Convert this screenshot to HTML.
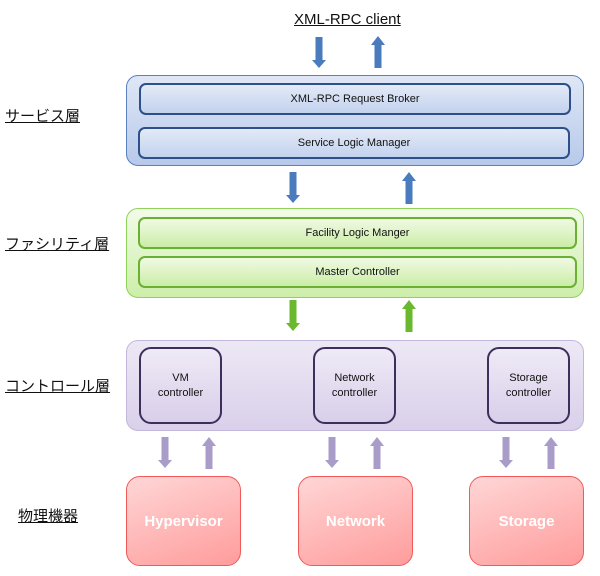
<!DOCTYPE html>
<html><head><meta charset="utf-8"><style>
body{margin:0;width:600px;height:576px;background:#fff;position:relative;overflow:hidden;font-family:"Liberation Sans","Noto Sans CJK JP",sans-serif}
.a{position:absolute;box-sizing:border-box;display:flex;align-items:center;justify-content:center;text-align:center}
.lbl{position:absolute;font-size:15px;color:#111;text-decoration:underline;white-space:nowrap;line-height:18px}
.bo{border:1.5px solid #5a80c0;border-radius:12px;background:linear-gradient(#dfe7f6,#b7c9ea)}
.bi{border:2px solid #2d4f8a;border-radius:7px;background:linear-gradient(#e3eaf7,#c3d2ee);font-size:11px;color:#111}
.go{border:1.5px solid #8fd35a;border-radius:12px;background:linear-gradient(#f2fbe8,#cdeeaa)}
.gi{border:2px solid #6ab032;border-radius:7px;background:linear-gradient(#f0fae4,#cbeda6);font-size:11px;color:#111}
.po{border:1.5px solid #c4b6dc;border-radius:12px;background:linear-gradient(#ede8f5,#d9d0ea)}
.pi{border:2px solid #3d2f5c;border-radius:12px;background:linear-gradient(#efeaf6,#d8cfea);font-size:11px;color:#111;line-height:15px}
.r{border:1.5px solid #f05a5a;border-radius:14px;background:linear-gradient(160deg,#ffd6d6,#ff9c9c);color:#fff;font-size:15px;font-weight:bold}
</style></head><body>
<div class="lbl" style="left:294px;top:11px;font-size:15px">XML-RPC client</div>
<div class="lbl" style="left:5px;top:108px">サービス層</div>
<div class="lbl" style="left:5px;top:236px">ファシリティ層</div>
<div class="lbl" style="left:5px;top:378px">コントロール層</div>
<div class="lbl" style="left:18px;top:508px">物理機器</div>

<div class="a bo" style="left:126px;top:75px;width:458px;height:91px"></div>
<div class="a bi" style="left:139px;top:83px;width:432px;height:32px">XML-RPC Request Broker</div>
<div class="a bi" style="left:138px;top:127px;width:432px;height:32px">Service Logic Manager</div>

<div class="a go" style="left:126px;top:208px;width:458px;height:90px"></div>
<div class="a gi" style="left:138px;top:217px;width:439px;height:32px">Facility Logic Manger</div>
<div class="a gi" style="left:138px;top:256px;width:439px;height:32px">Master Controller</div>

<div class="a po" style="left:126px;top:340px;width:458px;height:91px"></div>
<div class="a pi" style="left:139px;top:347px;width:83px;height:77px">VM<br>controller</div>
<div class="a pi" style="left:313px;top:347px;width:83px;height:77px">Network<br>controller</div>
<div class="a pi" style="left:487px;top:347px;width:83px;height:77px">Storage<br>controller</div>

<div class="a r" style="left:126px;top:476px;width:115px;height:90px">Hypervisor</div>
<div class="a r" style="left:298px;top:476px;width:115px;height:90px">Network</div>
<div class="a r" style="left:469px;top:476px;width:115px;height:90px">Storage</div>

<svg width="600" height="576" style="position:absolute;left:0;top:0">
<defs>
<g id="dn"><rect x="-3.5" y="0" width="7" height="24"/><polygon points="-7,23 7,23 0,31"/></g>
<g id="up"><rect x="-3.5" y="8" width="7" height="24"/><polygon points="-7,9 7,9 0,0"/></g>
</defs>
<g fill="#4a7bbd">
<use href="#dn" x="319" y="37"/><use href="#up" x="378" y="36"/>
<use href="#dn" x="293" y="172"/><use href="#up" x="409" y="172"/>
</g>
<g fill="#6ab82e">
<use href="#dn" x="293" y="300"/><use href="#up" x="409" y="300"/>
</g>
<g fill="#a99cc9">
<use href="#dn" x="165" y="437"/><use href="#up" x="209" y="437"/>
<use href="#dn" x="332" y="437"/><use href="#up" x="377" y="437"/>
<use href="#dn" x="506" y="437"/><use href="#up" x="551" y="437"/>
</g>
</svg>
</body></html>
